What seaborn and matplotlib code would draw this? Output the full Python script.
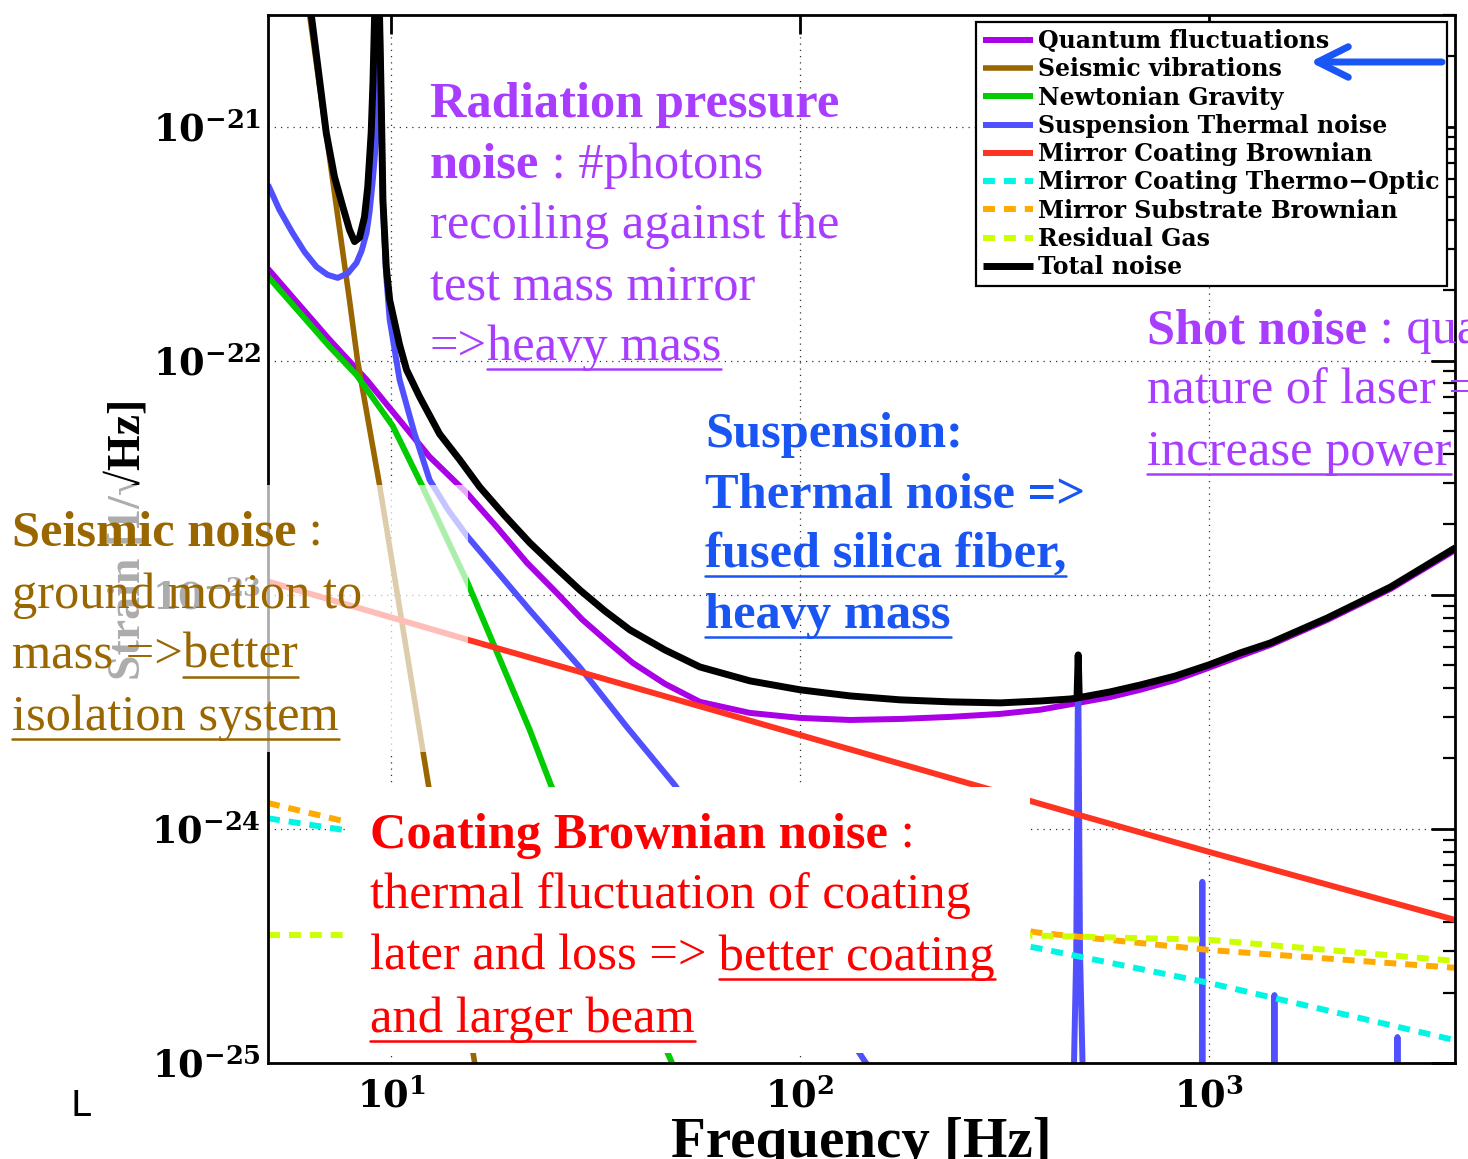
import matplotlib
matplotlib.use("Agg")
import matplotlib.pyplot as plt
import matplotlib.ticker as mticker
from matplotlib.transforms import IdentityTransform
from matplotlib.lines import Line2D
from matplotlib.patches import Rectangle, FancyArrowPatch
import seaborn as sns

# ---------------- noise budget: frequency [Hz] vs strain [1/sqrt(Hz)] ----------------
quantum_f = [5, 7.07, 8.71, 10, 12.42, 15.3, 18.13, 21.5, 25.13, 29.4, 33.9, 39.0, 46.72,
             56.91, 75.45, 100, 132.6, 175.8, 233, 308.9, 386.9, 479.2, 574.1, 679.8,
             827.9, 1000, 1194, 1414, 1950, 2782, 4013]
quantum_h = [2.47e-22, 1.23e-22, 8.3e-23, 6.18e-23, 3.89e-23, 2.73e-23, 1.95e-23, 1.37e-23,
             1.04e-23, 7.82e-24, 6.29e-24, 5.12e-24, 4.17e-24, 3.49e-24, 3.13e-24, 2.98e-24,
             2.92e-24, 2.95e-24, 3.01e-24, 3.10e-24, 3.23e-24, 3.455e-24, 3.66e-24, 3.93e-24,
             4.33e-24, 4.88e-24, 5.48e-24, 6.11e-24, 7.82e-24, 1.06e-23, 1.557e-23]

seismic_f = [6.0, 6.32, 7.91, 8.28, 9.37, 12.32, 15.97, 17.5]
seismic_h = [6.7e-21, 3.0e-21, 1.82e-22, 1.0e-22, 2.95e-23, 1.57e-24, 1.03e-25, 4e-26]

newton_f = [5, 7.07, 8.23, 10.09, 11.88, 15.39, 21.83, 24.6, 48.3, 55]
newton_h = [2.29e-22, 1.15e-22, 8.7e-23, 5.27e-23, 2.95e-23, 1.125e-23, 2.65e-24, 1.54e-24,
            1.03e-25, 6e-26]

susp_f = [5, 5.33, 5.74, 6.14, 6.57, 6.99, 7.40, 7.83, 8.23, 8.47, 8.71, 8.86, 9.01, 9.11,
          9.21, 9.29, 9.46, 9.55, 9.73, 9.92, 10.49, 11.4, 12.42, 13.8, 15.4, 21.8, 28.9,
          37.7, 49.4, 100, 145, 200, 300, 455, 468, 474, 479, 484, 491, 505, 900, 960, 964,
          968, 1440, 1447, 1454, 2880, 2893, 2906, 4100]
susp_h = [5.65e-22, 4.42e-22, 3.52e-22, 2.92e-22, 2.52e-22, 2.33e-22, 2.26e-22, 2.36e-22,
          2.62e-22, 2.95e-22, 3.52e-22, 4.33e-22, 5.77e-22, 7.23e-22, 9.4e-22, 8e-21, 1.25e-21,
          4.7e-22, 2.3e-22, 1.5e-22, 8.3e-23, 4.92e-23, 3.1e-23, 2.3e-23, 1.77e-23, 8.63e-24,
          4.92e-24, 2.73e-24, 1.54e-24, 2.7e-25, 1.0e-25, 6e-26, 4.5e-26, 2.5e-26, 1e-25,
          3e-25, 5.5e-24, 3e-25, 1e-25, 2.5e-26, 2e-26, 2e-26, 5.94e-25, 2e-26, 2e-26,
          1.95e-25, 2e-26, 2e-26, 1.29e-25, 2e-26, 2e-26]

coat_brown_f = [5, 15.4, 479, 1000, 4012]
coat_brown_h = [1.14e-23, 6.43e-24, 1.15e-24, 7.98e-25, 4.08e-25]

coat_to_f = [5, 7.65, 380, 1000, 4012]
coat_to_h = [1.11e-24, 9.9e-25, 3.1e-25, 2.2e-25, 1.25e-25]

subs_f = [5, 7.65, 385, 1000, 4012]
subs_h = [1.29e-24, 1.08e-24, 3.6e-25, 3.04e-25, 2.55e-25]

gas_f = [5, 7.65, 385, 1000, 4012]
gas_h = [3.52e-25, 3.52e-25, 3.5e-25, 3.36e-25, 2.73e-25]

total_f = [6.0, 6.38, 6.62, 6.94, 7.27, 7.62, 7.91, 8.14, 8.37, 8.61, 8.77, 8.94, 9.03, 9.27,
           9.37, 9.46, 9.55, 9.73, 9.92, 10.49, 10.91, 11.74, 13.14, 14.71, 16.47, 18.96,
           21.83, 25.13, 28.93, 33.31, 38.35, 46.72, 56.91, 75.45, 100, 132.6, 175.8, 233,
           308.9, 386.9, 458.1, 476, 479.2, 482, 574.1, 679.8, 827.9, 1000, 1194, 1414,
           1950, 2782, 4013]
total_h = [6.7e-21, 3.0e-21, 1.81e-21, 9.43e-22, 6.11e-22, 4.55e-22, 3.63e-22, 3.23e-22,
           3.36e-22, 4.12e-22, 5.54e-22, 9.43e-22, 1.54e-21, 1e-20, 3.0e-21, 1.30e-21, 4.88e-22,
           2.52e-22, 1.82e-22, 1.17e-22, 9.15e-23, 7.02e-23, 4.87e-23, 3.78e-23, 2.89e-23,
           2.18e-23, 1.67e-23, 1.32e-23, 1.05e-23, 8.54e-24, 7.09e-24, 5.82e-24, 4.92e-24,
           4.29e-24, 3.93e-24, 3.70e-24, 3.56e-24, 3.49e-24, 3.455e-24, 3.52e-24, 3.59e-24,
           3.62e-24, 5.54e-24, 3.64e-24, 3.85e-24, 4.12e-24, 4.50e-24, 5.02e-24, 5.65e-24,
           6.23e-24, 7.97e-24, 1.08e-23, 1.59e-23]

legend_labels = ["Quantum fluctuations", "Seismic vibrations", "Newtonian Gravity",
                 "Suspension Thermal noise", "Mirror Coating Brownian",
                 "Mirror Coating Thermo\u2212Optic", "Mirror Substrate Brownian",
                 "Residual Gas", "Total noise"]

xtick_values = [10, 100, 1000]
xtick_labels = [r"$\mathbf{10^{1}}$", r"$\mathbf{10^{2}}$", r"$\mathbf{10^{3}}$"]
ytick_values = [1e-25, 1e-24, 1e-23, 1e-22, 1e-21]
ytick_labels = [r"$\mathbf{10^{-25}}$", r"$\mathbf{10^{-24}}$", r"$\mathbf{10^{-23}}$",
                r"$\mathbf{10^{-22}}$", r"$\mathbf{10^{-21}}$"]

# ---------------- styling ----------------
sns.set_theme(style="white")
plt.rcParams["font.family"] = ["Liberation Serif", "DejaVu Serif"]
plt.rcParams["mathtext.fontset"] = "dejavuserif"
plt.rcParams["text.color"] = "black"
plt.rcParams["axes.labelcolor"] = "black"

W, H = 1468, 1159
fig = plt.figure(figsize=(W / 100, H / 100), dpi=100, facecolor="white")
ax = fig.add_axes([268 / W, 1 - 1063 / H, (1455 - 268) / W, (1063 - 15) / H])
ax.set_xscale("log")
ax.set_yscale("log")

curves = [
    (quantum_f, quantum_h, "#AA00E6", None, 4.3),
    (seismic_f, seismic_h, "#996600", None, 4.0),
    (newton_f, newton_h, "#00CC00", None, 4.3),
    (susp_f, susp_h, "#5050FF", None, 4.3),
    (coat_brown_f, coat_brown_h, "#FF3322", None, 4.3),
    (coat_to_f, coat_to_h, "#00F5E5", [2.0, 1.5], 4.3),
    (subs_f, subs_h, "#FFAA00", [2.0, 1.5], 4.3),
    (gas_f, gas_h, "#CCFF00", [2.0, 1.5], 4.3),
    (total_f, total_h, "#000000", None, 5.0),
]

handles = []
for (fx, hy, col, dash, lw), lab in zip(curves, legend_labels):
    sns.lineplot(x=fx, y=hy, ax=ax, color=col, lw=lw, estimator=None, sort=False,
                 legend=False)
    ln = ax.lines[-1]
    ln.set_solid_capstyle("butt")
    ln.set_solid_joinstyle("round")
    if dash is not None:
        ln.set_dashes(dash)
        ln.set_dash_capstyle("butt")
    ln.set_label(lab)
    handles.append(ln)

ax.set_xlim(5, 4000)
ax.set_ylim(1e-25, 3e-21)

ax.set_xticks(xtick_values)
ax.set_xticklabels(xtick_labels)
ax.xaxis.set_minor_locator(mticker.NullLocator())
ax.set_yticks(ytick_values)
ax.set_yticklabels(ytick_labels)
ax.yaxis.set_minor_locator(mticker.LogLocator(base=10, subs=range(2, 10), numticks=50))
ax.yaxis.set_minor_formatter(mticker.NullFormatter())

ax.tick_params(axis="both", which="both", direction="in", top=True, right=True,
               color="black", labelcolor="black")
ax.tick_params(axis="y", which="major", length=17, width=2, labelsize=26.5, pad=5)
ax.tick_params(axis="y", which="minor", length=9, width=1.6)
ax.tick_params(axis="x", which="major", length=14, width=2, labelsize=26.5, pad=11)
for sp in ax.spines.values():
    sp.set_color("black")
    sp.set_linewidth(2.0)

ax.grid(True, which="major", color="#333333", linestyle=(0, (1, 4)), lw=0.9)

ax.set_xlabel("Frequency [Hz]", fontsize=41, fontweight="bold", family="Liberation Serif",
              color="black")
ax.xaxis.set_label_coords((861 - 268) / 1187, -(1117 - 1063) / 1048)
ax.set_ylabel("Strain [1/\u221aHz]", fontsize=33, fontweight="bold",
              family=["Liberation Serif", "DejaVu Serif"], va="center", color="black")
ax.yaxis.set_label_coords((128 - 268) / 1187, 0.5)

leg = ax.legend(handles, legend_labels, loc="upper right",
                bbox_to_anchor=(0.9933, 0.9933), borderaxespad=0,
                prop={"family": "DejaVu Serif", "weight": "bold", "size": 17},
                handlelength=2.1, handletextpad=0.25, labelspacing=0.18,
                borderpad=0.3, frameon=True, fancybox=False, framealpha=1,
                edgecolor="black")
leg.get_frame().set_linewidth(1.6)
leg.set_zorder(6)

# ---------------- slide overlays ----------------
idt = IdentityTransform()
fig.add_artist(Rectangle((0, H - 752), 468, 752 - 485, transform=idt,
                         facecolor="white", edgecolor="none", alpha=0.68, zorder=5))
fig.add_artist(Rectangle((347, H - 1053), 1030 - 347, 1053 - 787, transform=idt,
                         facecolor="white", edgecolor="none", zorder=5))

fig.add_artist(FancyArrowPatch(posA=(1442, H - 62), posB=(1310, H - 62), transform=idt,
                               arrowstyle="->,head_length=1.1,head_width=0.55",
                               mutation_scale=20, lw=5, color="#1A55F5",
                               capstyle="round", joinstyle="round",
                               shrinkA=0, shrinkB=0, zorder=12))

renderer = fig.canvas.get_renderer()
TXT = 36.4


def write_line(x, y_img, parts, color, size=TXT):
    y = H - y_img
    for s, bold, ul in parts:
        kw = dict(transform=idt, color=color, fontsize=size,
                  fontweight="bold" if bold else "normal",
                  family="Liberation Serif", va="baseline", ha="left", zorder=10)
        t = fig.text(x, y, s, **kw)
        bb = t.get_window_extent(renderer)
        if ul:
            probe = fig.text(0, 0, s.lstrip(), **kw)
            w = probe.get_window_extent(renderer).width
            probe.remove()
            fig.add_artist(Line2D([bb.x1 - w, bb.x1], [y - 9, y - 9], transform=idt,
                                  color=color, lw=1.8, zorder=10))
        x = bb.x1


purple_txt = "#A83DFF"
blue_txt = "#1955F2"
brown_txt = "#996600"
red_txt = "#FF0000"

write_line(430, 117, [("Radiation pressure", True, False)], purple_txt)
write_line(430, 178, [("noise", True, False), (" : #photons", False, False)], purple_txt)
write_line(430, 238, [("recoiling against the", False, False)], purple_txt)
write_line(430, 300, [("test mass mirror", False, False)], purple_txt)
write_line(430, 360, [("=>", False, False), ("heavy mass", False, True)], purple_txt)

write_line(705, 447, [("Suspension:", True, False)], blue_txt)
write_line(705, 507, [("Thermal noise =>", True, False)], blue_txt)
write_line(705, 567, [("fused silica fiber,", True, True)], blue_txt)
write_line(705, 628, [("heavy mass", True, True)], blue_txt)

write_line(1147, 343, [("Shot noise", True, False), (" : quantum", False, False)], purple_txt)
write_line(1147, 403, [("nature of laser =>", False, False)], purple_txt)
write_line(1147, 465, [("increase power", False, True)], purple_txt)

write_line(12, 545, [("Seismic noise", True, False), (" :", False, False)], brown_txt)
write_line(12, 608, [("ground motion to", False, False)], brown_txt)
write_line(12, 668, [("mass =>", False, False), ("better", False, True)], brown_txt)
write_line(12, 730, [("isolation system", False, True)], brown_txt)

write_line(370, 848, [("Coating Brownian noise", True, False), (" :", False, False)], red_txt)
write_line(370, 908, [("thermal fluctuation of coating", False, False)], red_txt)
write_line(370, 970, [("later and loss =>", False, False), (" better coating", False, True)],
           red_txt)
write_line(370, 1032, [("and larger beam", False, True)], red_txt)

fig.text(70, H - 1116, "L", transform=idt, fontsize=26, family="DejaVu Sans",
         color="black", va="baseline", ha="left")

fig.savefig("out.png", dpi=100, facecolor="white")
